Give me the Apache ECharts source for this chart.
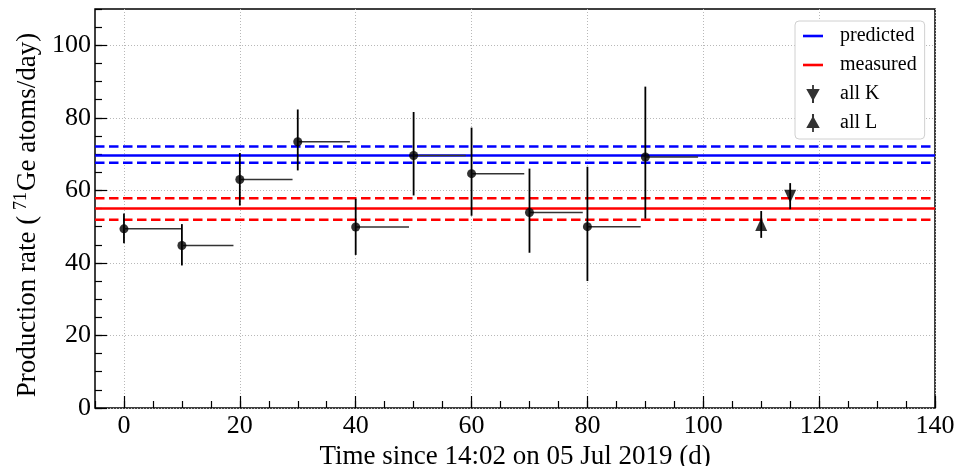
<!DOCTYPE html>
<html>
<head>
<meta charset="utf-8">
<script src="https://cdn.jsdelivr.net/npm/echarts@6/dist/echarts.min.js"></script>
<style>html,body{margin:0;padding:0;background:#fff;}#c{width:957px;height:466px;}</style>
</head>
<body>
<div id="c"></div>
<script>
// ---- data ----
const runStart = [0, 10, 20, 30, 40, 50, 60, 70, 80, 90];
const runEnd   = [9.9, 18.9, 29.1, 39.0, 49.2, 59.0, 69.1, 79.2, 89.2, 99.1];
const rate     = [49.4, 44.8, 63.0, 73.4, 49.9, 69.6, 64.6, 53.9, 50.0, 69.2];
const rateLow  = [45.4, 39.3, 55.8, 65.5, 42.2, 58.6, 53.0, 42.8, 35.0, 52.2];
const rateHigh = [53.6, 50.7, 70.3, 82.3, 57.7, 81.6, 77.3, 66.0, 66.5, 88.6];

const predicted = [67.6, 69.6, 72.1];   // low, central, high
const measured  = [51.9, 55.0, 57.8];   // low, central, high

const allK = [115, 58.4, 3.6];  // x, y, error
const allL = [110, 50.6, 3.7];

const xTicks = [0, 20, 40, 60, 80, 100, 120, 140];
const yTicks = [0, 20, 40, 60, 80, 100];
const xRange = [-5, 140];
const yRange = [0, 110];

// ---- build ----
const FONT = 'Liberation Serif';
const errData = runStart.map((x, i) => [x, rate[i], rateLow[i], rateHigh[i], runEnd[i]]);
errData.push([allK[0], allK[1], allK[1] - allK[2], allK[1] + allK[2], allK[0]]);
errData.push([allL[0], allL[1], allL[1] - allL[2], allL[1] + allL[2], allL[0]]);

function hline(name, y, color, dashed) {
  return {
    type: 'line', name: name, data: [[xRange[0], y], [xRange[1], y]],
    symbol: 'none', silent: true, z: 2,
    lineStyle: { color: color, width: 2.5, type: dashed ? [9.5, 4.5] : 'solid' },
    itemStyle: { color: color }
  };
}

const iconLine = 'path://M0,0 H20 V2.6 H0 Z';
const iconK = 'path://M5.2,0 H6.8 V3.5 H12 L6.9,12.6 V16 H5.1 V12.6 L0,3.5 H5.2 Z';
const iconL = 'path://M5.2,16 H6.8 V12.5 H12 L6.9,3.4 V0 H5.1 V3.4 L0,12.5 H5.2 Z';

const minorAxis = {
  axisLine: { show: false, onZero: false }, axisLabel: { show: false }, splitLine: { show: false },
  axisTick: { show: true, inside: true, length: 7, lineStyle: { color: '#000', width: 1.2 } }
};

const gridBox = { left: 95, right: 22, top: 9, bottom: 58, containLabel: false, outerBoundsMode: 'none' };

const option = {
  animation: false,
  backgroundColor: '#fff',
  textStyle: { fontFamily: FONT },
  grid: [
    Object.assign({ show: true, borderColor: '#000', borderWidth: 1.5, backgroundColor: 'transparent' }, gridBox),
    Object.assign({ show: false }, gridBox)
  ],
  xAxis: [
    {
      type: 'value', gridIndex: 0, min: xRange[0], max: xRange[1],
      name: 'Time since 14:02 on 05 Jul 2019 (d)', nameLocation: 'middle', nameGap: 24,
      nameTextStyle: { fontFamily: FONT, fontSize: 27, color: '#000' },
      axisLine: { show: false, onZero: false },
      axisTick: { show: true, inside: true, length: 12, customValues: xTicks, lineStyle: { color: '#000', width: 1.2 } },
      axisLabel: { customValues: xTicks, fontFamily: FONT, fontSize: 26, color: '#000', margin: 5 },
      splitLine: { show: true, lineStyle: { color: '#b8b8b8', type: [1, 2], width: 1 } }
    },
    Object.assign({ type: 'value', gridIndex: 1, min: xRange[0], max: xRange[1], interval: 5 }, minorAxis)
  ],
  yAxis: [
    {
      type: 'value', gridIndex: 0, min: yRange[0], max: yRange[1],
      name: '{a|Production rate (}{sup|71}{a|Ge atoms/day)}', nameLocation: 'middle', nameGap: 43,
      nameTextStyle: {
        color: '#000',
        padding: [0, 13, 0, 0],
        rich: {
          a: { fontFamily: FONT, fontSize: 27, color: '#000', lineHeight: 30 },
          sup: { fontFamily: FONT, fontSize: 18, color: '#000', lineHeight: 18, verticalAlign: 'top', padding: [0, 1, 0, 6] }
        }
      },
      axisLine: { show: false, onZero: false },
      axisTick: { show: true, inside: true, length: 12, customValues: yTicks, lineStyle: { color: '#000', width: 1.2 } },
      axisLabel: { customValues: yTicks, fontFamily: FONT, fontSize: 26, color: '#000', margin: 4 },
      splitLine: { show: true, lineStyle: { color: '#b8b8b8', type: [1, 2], width: 1 } }
    },
    Object.assign({ type: 'value', gridIndex: 1, min: yRange[0], max: yRange[1], interval: 5 }, minorAxis)
  ],
  legend: {
    orient: 'vertical', left: 795, top: 21,
    padding: [5, 8, 6, 8],
    backgroundColor: '#fff', borderColor: '#d0d0d0', borderWidth: 1, borderRadius: 4,
    itemWidth: 20, itemHeight: 18, itemGap: 9,
    textStyle: { fontFamily: FONT, fontSize: 20, color: '#000', padding: [0, 0, 0, 12] },
    data: [
      { name: 'predicted', icon: iconLine },
      { name: 'measured', icon: iconLine },
      { name: 'all K', icon: iconK, itemStyle: { color: '#000' } },
      { name: 'all L', icon: iconL, itemStyle: { color: '#000' } }
    ]
  },
  series: [
    hline('predicted', predicted[1], '#0000ff', false),
    hline('predicted band', predicted[0], '#0000ff', true),
    hline('predicted band', predicted[2], '#0000ff', true),
    hline('measured', measured[1], '#ff0000', false),
    hline('measured band', measured[0], '#ff0000', true),
    hline('measured band', measured[2], '#ff0000', true),
    {
      type: 'custom', name: 'errors', data: errData, z: 4, silent: true,
      encode: { x: [0, 4], y: [1, 2, 3] },
      renderItem: function (params, api) {
        const x = api.value(0), y = api.value(1), lo = api.value(2), hi = api.value(3), xe = api.value(4);
        const pLo = api.coord([x, lo]), pHi = api.coord([x, hi]);
        const children = [{
          type: 'line', shape: { x1: pLo[0], y1: pLo[1], x2: pHi[0], y2: pHi[1] },
          style: { stroke: '#000', lineWidth: 1.8 }
        }];
        if (xe !== x) {
          const p0 = api.coord([x, y]), p1 = api.coord([xe, y]);
          children.push({
            type: 'line', shape: { x1: p0[0], y1: p0[1], x2: p1[0], y2: p1[1] },
            style: { stroke: '#333', lineWidth: 1.5 }
          });
        }
        return { type: 'group', children: children };
      }
    },
    {
      type: 'scatter', name: 'points', data: runStart.map((x, i) => [x, rate[i]]), z: 5,
      symbol: 'circle', symbolSize: 9, itemStyle: { color: '#000' }
    },
    {
      type: 'scatter', name: 'all K', data: [[allK[0], allK[1]]], z: 5,
      symbol: 'triangle', symbolRotate: 180, symbolSize: [12, 13], symbolKeepAspect: true, itemStyle: { color: '#000' }
    },
    {
      type: 'scatter', name: 'all L', data: [[allL[0], allL[1]]], z: 5,
      symbol: 'triangle', symbolSize: [12, 13], symbolKeepAspect: true, itemStyle: { color: '#000' }
    }
  ]
};

const chart = echarts.init(document.getElementById('c'), null, { renderer: 'canvas' });
chart.setOption(option);
</script>
</body>
</html>
